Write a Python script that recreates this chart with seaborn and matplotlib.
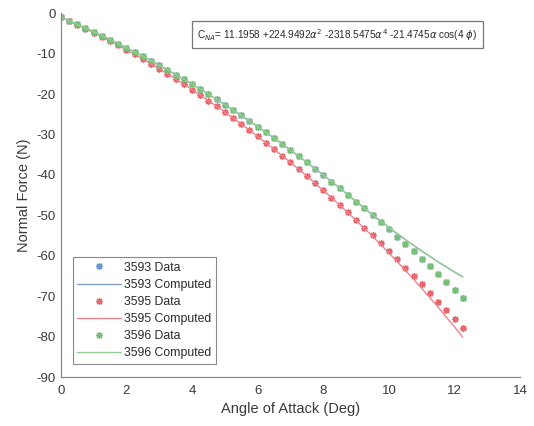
import matplotlib
matplotlib.use("Agg")
import matplotlib.pyplot as plt
import seaborn as sns
import pandas as pd

# ---- data ----
aoa_data = [0.0, 0.25, 0.5, 0.75, 1.0, 1.25, 1.5, 1.75, 2.0, 2.25, 2.5, 2.75, 3.0, 3.25,
            3.5, 3.75, 4.0, 4.25, 4.5, 4.75, 5.0, 5.25, 5.5, 5.75, 6.0, 6.25, 6.5, 6.75,
            7.0, 7.25, 7.5, 7.75, 8.0, 8.25, 8.5, 8.75, 9.0, 9.25, 9.5, 9.75, 10.0, 10.25,
            10.5, 10.75, 11.0, 11.25, 11.5, 11.75, 12.0, 12.25]

data_3593 = [-1.00, -1.86, -2.75, -3.65, -4.59, -5.54, -6.52, -7.52, -8.54, -9.59, -10.66,
             -11.75, -12.87, -14.00, -15.17, -16.35, -17.56, -18.79, -20.05, -21.32, -22.63,
             -23.95, -25.30, -26.67, -28.06, -29.48, -30.92, -32.38, -33.87, -35.37, -36.91,
             -38.46, -40.04, -41.64, -43.27, -44.91, -46.59, -48.28, -50.00, -51.74, -53.50,
             -55.29, -57.10, -58.93, -60.79, -62.66, -64.57, -66.49, -68.44, -70.41]

data_3595 = [-1.00, -1.91, -2.85, -3.82, -4.82, -5.84, -6.89, -7.97, -9.08, -10.21, -11.37,
             -12.56, -13.77, -15.01, -16.28, -17.58, -18.90, -20.26, -21.64, -23.04, -24.48,
             -25.94, -27.42, -28.94, -30.48, -32.06, -33.65, -35.28, -36.93, -38.61, -40.32,
             -42.05, -43.82, -45.61, -47.42, -49.27, -51.14, -53.04, -54.97, -56.92, -58.90,
             -60.91, -62.95, -65.01, -67.10, -69.22, -71.36, -73.54, -75.74, -77.96]

data_3596 = [-1.00, -1.86, -2.75, -3.65, -4.59, -5.54, -6.52, -7.52, -8.54, -9.59, -10.66,
             -11.75, -12.87, -14.00, -15.17, -16.35, -17.56, -18.79, -20.05, -21.32, -22.63,
             -23.95, -25.30, -26.67, -28.06, -29.48, -30.92, -32.38, -33.87, -35.37, -36.91,
             -38.46, -40.04, -41.64, -43.27, -44.91, -46.59, -48.28, -50.00, -51.74, -53.50,
             -55.29, -57.10, -58.93, -60.79, -62.66, -64.57, -66.49, -68.44, -70.41]

aoa_comp = [0.0, 0.5, 1.0, 1.5, 2.0, 2.5, 3.0, 3.5, 4.0, 4.5, 5.0, 5.5, 6.0, 6.5, 7.0, 7.5,
            8.0, 8.5, 9.0, 9.5, 10.0, 10.5, 11.0, 11.5, 12.0, 12.25]

comp_3593 = [-1.00, -2.75, -4.59, -6.52, -8.54, -10.66, -12.87, -15.17, -17.56, -20.05,
             -22.63, -25.30, -28.06, -30.92, -33.87, -36.91, -40.04, -43.27, -46.59, -49.88,
             -53.01, -56.00, -58.83, -61.51, -64.03, -65.23]

comp_3595 = [-1.00, -2.85, -4.82, -6.89, -9.08, -11.37, -13.77, -16.28, -18.90, -21.64,
             -24.48, -27.42, -30.48, -33.65, -36.93, -40.32, -43.84, -47.47, -51.26, -55.20,
             -59.31, -63.59, -68.06, -72.73, -77.62, -80.13]

comp_3596 = [-1.00, -2.75, -4.59, -6.52, -8.54, -10.66, -12.87, -15.17, -17.56, -20.05,
             -22.63, -25.30, -28.06, -30.92, -33.87, -36.91, -40.04, -43.27, -46.59, -49.88,
             -53.01, -56.00, -58.83, -61.51, -64.03, -65.23]

x_ticks = [0, 2, 4, 6, 8, 10, 12, 14]
y_ticks = [0, -10, -20, -30, -40, -50, -60, -70, -80, -90]

runs = ["3593", "3595", "3596"]
data_sets = [data_3593, data_3595, data_3596]
comp_sets = [comp_3593, comp_3595, comp_3596]
marker_colors = ["#6a98cc", "#e8676c", "#78bf7a"]
line_colors = ["#86a2c6", "#ee8390", "#95cc95"]

# ---- style ----
sns.set_style("white")
plt.rcParams["font.family"] = ["Liberation Sans", "DejaVu Sans"]
plt.rcParams["mathtext.fontset"] = "dejavusans"

fig = plt.figure(figsize=(5.34, 4.26), dpi=100)
ax = fig.add_axes([0.114, 0.115, 0.860, 0.854])

for run, dvals, cvals, mc, lc in zip(runs, data_sets, comp_sets, marker_colors, line_colors):
    df_d = pd.DataFrame({"aoa": aoa_data, "force": dvals})
    df_c = pd.DataFrame({"aoa": aoa_comp, "force": cvals})
    sns.lineplot(data=df_d, x="aoa", y="force", ax=ax, linestyle="", marker=(8, 2, 0),
                 markersize=5, markeredgewidth=0.9, color=mc, markeredgecolor=mc,
                 label=f"{run} Data", errorbar=None)
    sns.lineplot(data=df_c, x="aoa", y="force", ax=ax, color=lc, linewidth=1.0,
                 label=f"{run} Computed", errorbar=None)

ax.set_xlim(0, 14)
ax.set_ylim(-90, 0)
ax.set_xticks(x_ticks)
ax.set_yticks(y_ticks)
ax.set_xticklabels([str(t) for t in x_ticks])
ax.set_yticklabels([str(t) for t in y_ticks])
ax.tick_params(direction="in", length=3.5, width=0.8, colors="#888888",
               labelcolor="#3a3a3a", labelsize=9.5)
ax.tick_params(axis="x", pad=6)
for s in ["top", "right"]:
    ax.spines[s].set_visible(False)
for s in ["left", "bottom"]:
    ax.spines[s].set_color("#888888")
    ax.spines[s].set_linewidth(0.9)

ax.set_xlabel("Angle of Attack (Deg)", fontsize=10.5, color="#3a3a3a", labelpad=3)
ax.set_ylabel("Normal Force (N)", fontsize=10.5, color="#3a3a3a", labelpad=4)

leg = ax.legend(loc="lower left", bbox_to_anchor=(0.02, 0.03), fontsize=8.8,
                frameon=True, fancybox=False, framealpha=1, edgecolor="#888888",
                handlelength=3.6, handletextpad=0.3, labelspacing=0.42,
                borderpad=0.35, borderaxespad=0.2, numpoints=1)
leg.get_frame().set_linewidth(0.8)
for t in leg.get_texts():
    t.set_color("#2a2a2a")

ax.text(0.297, 0.941,
        r"C$_{NA}$= 11.1958 +224.9492$\alpha^2$ -2318.5475$\alpha^4$ -21.4745$\alpha$ cos(4 $\phi$)",
        transform=ax.transAxes, fontsize=7.2, color="#2a2a2a", ha="left", va="center",
        bbox=dict(boxstyle="square,pad=0.55", facecolor="white", edgecolor="#777777",
                  linewidth=0.9))

fig.savefig("out.png", dpi=100)
